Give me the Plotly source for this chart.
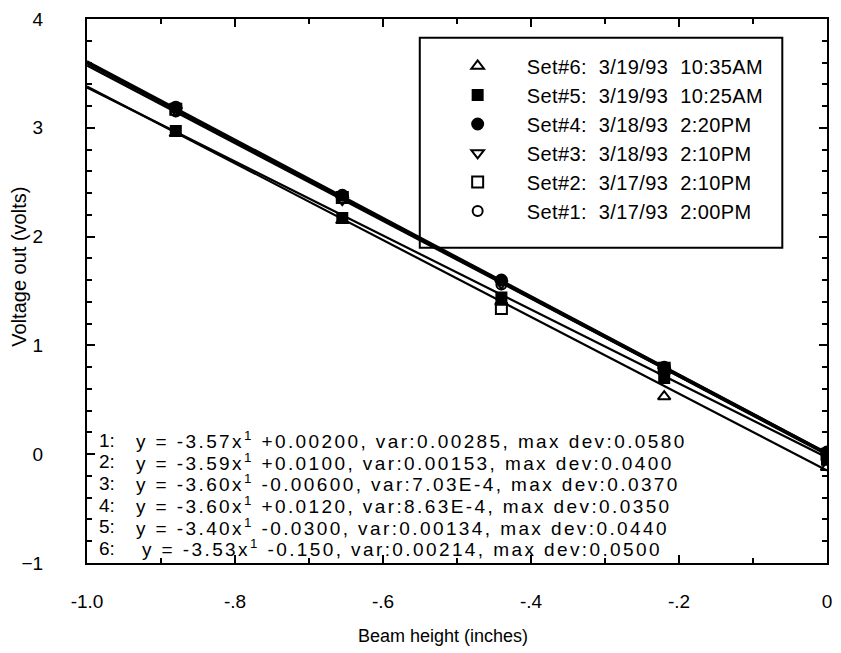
import plotly.graph_objects as go

# Beam height positions (inches) at which each calibration set was recorded
beam_height = [-0.88, -0.655, -0.44, -0.22, 0.0]

set_labels = [
    "Set#1:  3/17/93  2:00PM",
    "Set#2:  3/17/93  2:10PM",
    "Set#3:  3/18/93  2:10PM",
    "Set#4:  3/18/93  2:20PM",
    "Set#5:  3/19/93  10:25AM",
    "Set#6:  3/19/93  10:35AM",
]

# Measured voltage out (volts) for each set
set1_volts = [3.15, 2.35, 1.56, 0.78, 0.01]
set2_volts = [3.17, 2.36, 1.34, 0.79, 0.00]
set3_volts = [3.16, 2.34, 1.57, 0.77, -0.02]
set4_volts = [3.19, 2.38, 1.60, 0.80, 0.02]
set5_volts = [2.97, 2.17, 1.44, 0.70, -0.05]
set6_volts = [2.95, 2.15, 1.40, 0.53, -0.12]

# Linear fit results per set: slope, intercept, variance, max deviation
fit_slope = [-3.57, -3.59, -3.60, -3.60, -3.40, -3.53]
fit_intercept = [0.00200, 0.0100, -0.00600, 0.0120, -0.0300, -0.150]
fit_text = [
    "y = -3.57x<sup>1</sup> +0.00200, var:0.00285, max dev:0.0580",
    "y = -3.59x<sup>1</sup> +0.0100, var:0.00153, max dev:0.0400",
    "y = -3.60x<sup>1</sup> -0.00600, var:7.03E-4, max dev:0.0370",
    "y = -3.60x<sup>1</sup> +0.0120, var:8.63E-4, max dev:0.0350",
    "y = -3.40x<sup>1</sup> -0.0300, var:0.00134, max dev:0.0440",
    "y = -3.53x<sup>1</sup> -0.150, var:0.00214, max dev:0.0500",
]

x_ticks = [-1.0, -0.8, -0.6, -0.4, -0.2, 0.0]
x_tick_text = ["-1.0", "-.8", "-.6", "-.4", "-.2", "0"]
y_ticks = [-1, 0, 1, 2, 3, 4]

all_volts = [set1_volts, set2_volts, set3_volts, set4_volts, set5_volts, set6_volts]
symbols = ["circle-open", "square-open", "triangle-down-open",
           "circle", "square", "triangle-up-open"]
sizes = [10, 11, 11, 11, 10, 11]

FONT = "Liberation Sans, Arial, Helvetica, sans-serif"
fig = go.Figure()

# Fitted lines across the full beam-height span
fit_x = [-1.0, 0.0]
for m, b in zip(fit_slope, fit_intercept):
    fig.add_trace(go.Scatter(
        x=fit_x, y=[m * xv + b for xv in fit_x], mode="lines",
        line=dict(color="black", width=2.2), showlegend=False, hoverinfo="skip",
    ))

# Measured points; legend lists the newest set first
for i in reversed(range(6)):
    fig.add_trace(go.Scatter(
        x=beam_height, y=all_volts[i], mode="markers",
        name=f'<span style="letter-spacing:0.4px">{set_labels[i]}</span>',
        legendgroup=f"s{i}",
        marker=dict(symbol=symbols[i], size=sizes[i], color="black",
                    line=dict(color="black", width=2)),
    ))

# Fit-equation block in the lower-left of the plot
row_top = 0.226
row_step = 0.0398
for i, txt in enumerate(fit_text):
    yp = row_top - i * row_step
    fig.add_annotation(xref="paper", yref="paper", x=0.013, y=yp,
                       text=f"{i + 1}:", showarrow=False, xanchor="left",
                       yanchor="middle", font=dict(size=19, color="black", family=FONT))
    fig.add_annotation(xref="paper", yref="paper", x=0.064 if i < 5 else 0.071, y=yp,
                       text=f'<span style="letter-spacing:2.4px">{txt}</span>',
                       showarrow=False, xanchor="left", yanchor="middle",
                       font=dict(size=19, color="black", family=FONT))

# Legend frame
fig.add_shape(type="rect", xref="paper", yref="paper",
              x0=0.4497, x1=0.9396, y0=0.5797, y1=0.9656,
              line=dict(color="black", width=2), fillcolor="white", layer="below")

fig.add_annotation(xref="paper", yref="paper", x=0.4805, y=-0.135,
                   text="Beam height (inches)", showarrow=False,
                   xanchor="center", yanchor="middle",
                   font=dict(size=18, color="black", family=FONT))
fig.add_annotation(xref="paper", yref="paper", x=-0.093, y=0.545,
                   text="Voltage out (volts)", showarrow=False, textangle=-90,
                   xanchor="center", yanchor="middle",
                   font=dict(size=20, color="black", family=FONT))

axis_common = dict(
    showline=True, linecolor="black", linewidth=2, mirror="allticks",
    ticks="inside", tickcolor="black", tickwidth=1.5, ticklen=8,
    showgrid=False, zeroline=False,
    tickfont=dict(size=19, color="black", family=FONT),
)

fig.update_xaxes(range=[-1.0, 0.0], tickvals=x_ticks, ticktext=x_tick_text,
                 ticklabelstandoff=20,
                 minor=dict(dtick=0.1, tick0=0, ticks="inside", ticklen=5,
                            tickcolor="black", tickwidth=1.5),
                 **axis_common)
fig.update_yaxes(range=[-1, 4], tickvals=y_ticks, ticklabelstandoff=38,
                 minor=dict(dtick=0.2, tick0=0, ticks="inside", ticklen=5,
                            tickcolor="black", tickwidth=1.5),
                 **axis_common)

fig.update_layout(
    width=841, height=653,
    margin=dict(l=87, r=9, t=11, b=90),
    plot_bgcolor="white", paper_bgcolor="white",
    font=dict(family=FONT, color="black"),
    showlegend=True,
    legend=dict(x=0.4617, y=0.9495, xanchor="left", yanchor="top",
                bgcolor="rgba(0,0,0,0)", borderwidth=0,
                font=dict(size=20, color="black", family=FONT),
                traceorder="grouped", tracegroupgap=0, itemwidth=88),
)

fig.write_html("out.html")
